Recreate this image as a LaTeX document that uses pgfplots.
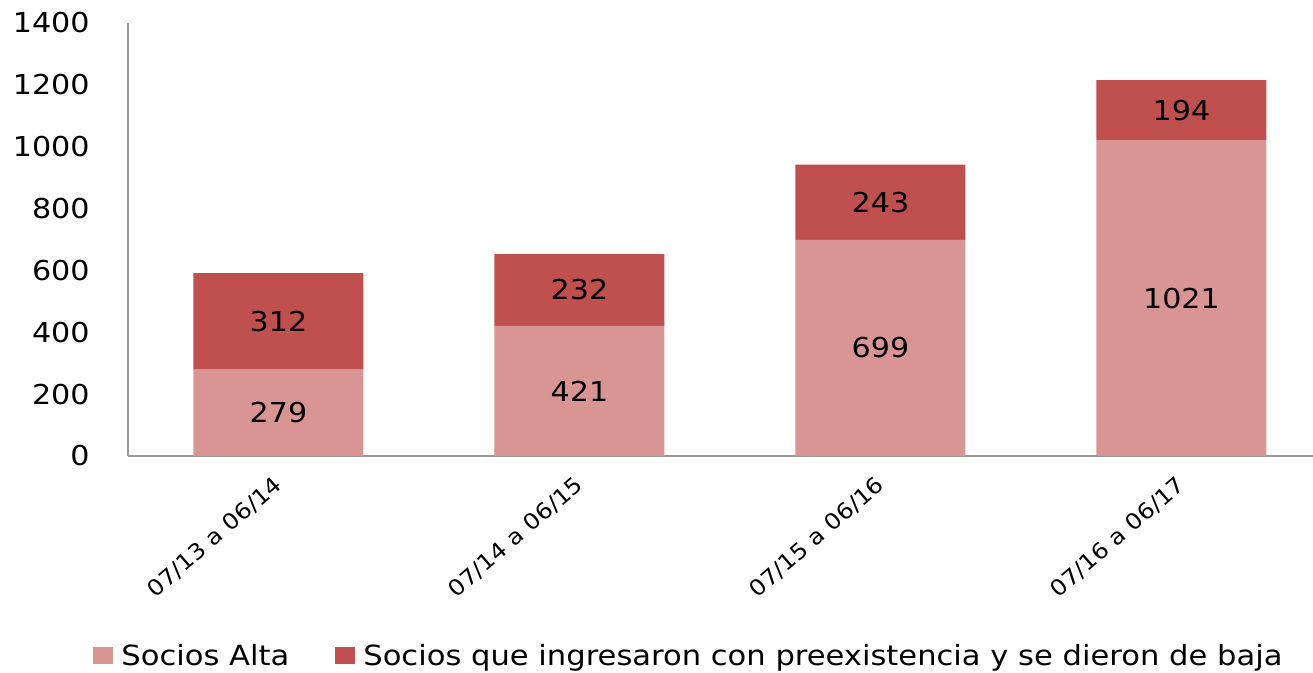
\documentclass[border=0pt]{standalone}
\usepackage{fontspec}
\setmainfont{DejaVu Sans}[FakeStretch=1.1]
\usepackage{pgfplots}
\usepackage{pgfplotstable}
\pgfplotsset{compat=1.18}
\definecolor{alta}{HTML}{D99594}
\definecolor{baja}{HTML}{C0504D}
\definecolor{axgray}{HTML}{9A9A9A}
\pgfplotstableread{
x a b
0 279 312
1 421 232
2 699 243
3 1021 194
}\datatab
\pgfplotsset{
  common/.style={
    scale only axis, width=592.5pt, height=216.5pt,
    at={(64pt,108.5pt)}, anchor=south west,
    xmin=-0.5, xmax=3.437, ymin=0, ymax=1400,
    font=\fontsize{13.7}{16}\selectfont,
  }
}
\begin{document}
\begin{tikzpicture}
\useasboundingbox (0,0) rectangle (656.5pt,336.5pt);
\begin{axis}[common,
  ybar stacked, bar width=85pt,
  axis lines*=left, axis line style={draw=axgray, line width=0.8pt, -},
  tick style={draw=none},
  ytick={0,200,...,1400},
  /pgf/number format/assume math mode=true,
  /pgf/number format/1000 sep={},
  scaled y ticks=false,
  yticklabel style={anchor=east, inner sep=0pt, xshift=-19pt},
  xtick={0,1,2,3},
  xticklabels={07/13 a 06/14, 07/14 a 06/15, 07/15 a 06/16, 07/16 a 06/17},
  xticklabel style={rotate=41, anchor=north east, inner sep=0pt, yshift=-5pt, xshift=-8pt,
    font=\fontsize{11}{13}\selectfont},
  legend columns=-1,
  legend style={draw=none, fill=none, inner sep=0pt,
    at={(axis description cs:0,0)}, anchor=west, xshift=-17.5pt, yshift=-100pt,
    /tikz/every even column/.append style={column sep=19pt},
    nodes={inner sep=0pt, inner xsep=4pt, anchor=west},
    font=\fontsize{13.9}{16}\selectfont},
  legend image code/.code={\fill[#1] (0pt,-4.25pt) rectangle (10pt,4.25pt);},
]
\addplot[fill=alta, draw=none] table[x=x, y=a] {\datatab};
\addlegendentry{Socios Alta}
\addplot[fill=baja, draw=none] table[x=x, y=b] {\datatab};
\addlegendentry{Socios que ingresaron con preexistencia y se dieron de baja}
\end{axis}
\begin{axis}[common, axis lines=none, ticks=none,
  every node near coord/.style={anchor=center, text=black, inner sep=0pt,
    font=\fontsize{13.7}{16}\selectfont},
]
\addplot[draw=none, mark=none, nodes near coords, point meta=explicit symbolic]
  table[x=x, y expr=\thisrow{a}/2, meta=a] {\datatab};
\addplot[draw=none, mark=none, nodes near coords, point meta=explicit symbolic]
  table[x=x, y expr=\thisrow{a}+\thisrow{b}/2, meta=b] {\datatab};
\end{axis}
\end{tikzpicture}
\end{document}
